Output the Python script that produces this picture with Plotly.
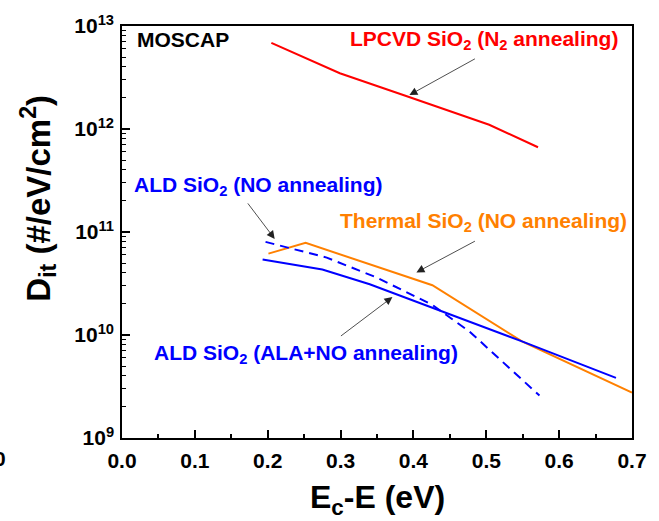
import plotly.graph_objects as go

# ---- data ----
lpcvd_x = [0.205, 0.299, 0.390, 0.504, 0.571]
lpcvd_y = [6.87e12, 3.48e12, 2.09e12, 1.10e12, 6.65e11]

thermal_x = [0.201, 0.252, 0.426, 0.549, 0.700]
thermal_y = [6.17e10, 7.85e10, 3.04e10, 8.67e9, 2.76e9]

ala_x = [0.193, 0.275, 0.340, 0.549, 0.678]
ala_y = [5.40e10, 4.32e10, 3.11e10, 8.67e9, 3.84e9]

ald_no_x = [0.197, 0.281, 0.349, 0.426, 0.477, 0.573]
ald_no_y = [8.02e10, 5.64e10, 3.63e10, 1.96e10, 1.08e10, 2.58e9]

x_ticks = [0.0, 0.1, 0.2, 0.3, 0.4, 0.5, 0.6, 0.7]
x_ticktext = ["0.0", "0.1", "0.2", "0.3", "0.4", "0.5", "0.6", "0.7"]
y_ticks = [1e9, 1e10, 1e11, 1e12, 1e13]
y_ticktext = ["10<sup>9</sup>", "10<sup>10</sup>", "10<sup>11</sup>", "10<sup>12</sup>", "10<sup>13</sup>"]

RED = "#FF0000"
ORANGE = "#FF8000"
BLUE = "#0000FF"
FONT = "Liberation Sans, Arial, sans-serif"

fig = go.Figure()
fig.add_trace(go.Scatter(x=lpcvd_x, y=lpcvd_y, mode="lines", line=dict(color=RED, width=2)))
fig.add_trace(go.Scatter(x=thermal_x, y=thermal_y, mode="lines", line=dict(color=ORANGE, width=2)))
fig.add_trace(go.Scatter(x=ala_x, y=ala_y, mode="lines", line=dict(color=BLUE, width=2)))
fig.add_trace(go.Scatter(x=ald_no_x, y=ald_no_y, mode="lines",
                         line=dict(color=BLUE, width=2, dash="9px,6px")))

minor_y = [m * 10 ** e for e in range(9, 13) for m in range(2, 10)]

fig.update_layout(
    width=659, height=521,
    margin=dict(l=122, r=26, t=20, b=83),
    paper_bgcolor="white", plot_bgcolor="white",
    showlegend=False,
    font=dict(family=FONT, size=21, color="black", weight="bold"),
    xaxis=dict(
        range=[0, 0.7], tickvals=x_ticks, ticktext=x_ticktext,
        ticks="inside", ticklen=8, tickwidth=1.5, tickcolor="black",
        showline=True, linecolor="black", linewidth=1.5, mirror=True,
        showgrid=False, zeroline=False,
        ticklabelstandoff=3,
        tickfont=dict(family=FONT, size=21, color="black", weight="bold"),
        minor=dict(tickvals=[0.05, 0.15, 0.25, 0.35, 0.45, 0.55, 0.65],
                   ticks="inside", ticklen=4, tickwidth=1.5, tickcolor="black", showgrid=False),
    ),
    yaxis=dict(
        type="log", range=[9, 13], tickvals=y_ticks, ticktext=y_ticktext,
        ticks="inside", ticklen=8, tickwidth=1.5, tickcolor="black",
        showline=True, linecolor="black", linewidth=1.5, mirror=True,
        showgrid=False, zeroline=False,
        ticklabelstandoff=2,
        tickfont=dict(family=FONT, size=21, color="black", weight="bold"),
        minor=dict(tickvals=minor_y, ticks="inside", ticklen=4, tickwidth=1.2,
                   tickcolor="black", showgrid=False),
    ),
)

def pxx(px):
    return (px - 122) / 511.0

def pxy(py):
    return (438 - py) / 418.0

ann = []
# axis titles
ann.append(dict(text="D<sub>it</sub> (#/eV/cm<sup>2</sup>)", xref="paper", yref="paper",
                x=pxx(38), y=pxy(195), textangle=-90, showarrow=False,
                xanchor="center", yanchor="middle",
                font=dict(family=FONT, size=33, color="black", weight="bold")))
ann.append(dict(text="E<sub>c</sub>-E (eV)", xref="paper", yref="paper",
                x=pxx(378), y=pxy(500), showarrow=False,
                xanchor="center", yanchor="middle",
                font=dict(family=FONT, size=32, color="black", weight="bold")))
# stray label at the left edge
ann.append(dict(text="0", xref="paper", yref="paper", x=pxx(8), y=pxy(459),
                showarrow=False, xanchor="right", yanchor="middle",
                font=dict(family=FONT, size=21, color="black", weight="bold")))
# text labels
labels = [
    ("MOSCAP", 135, 34, "black", "left"),
    ("LPCVD SiO<sub>2</sub> (N<sub>2</sub> annealing)", 484.5, 34, RED, "center"),
    ("ALD SiO<sub>2</sub> (NO annealing)", 259, 182, BLUE, "center"),
    ("Thermal SiO<sub>2</sub> (NO annealing)", 484, 219, ORANGE, "center"),
    ("ALD SiO<sub>2</sub> (ALA+NO annealing)", 306, 353, BLUE, "center"),
]
for t, x, y, c, anchor in labels:
    ann.append(dict(text=t, xref="paper", yref="paper", x=pxx(x), y=pxy(y),
                    showarrow=False, xanchor=anchor, yanchor="middle",
                    font=dict(family=FONT, size=21, color=c, weight="bold")))

# arrows: head in data coordinates, tail as pixel offset
arrows = [
    (0.3945, 12.330, 67, -37),
    (0.2096, 10.933, -28, -37),
    (0.4041, 10.608, 60, -32),
    (0.3712, 10.368, -53, 40),
]
for hx, hy, ax, ay in arrows:
    ann.append(dict(x=hx, y=hy, xref="x", yref="y", ax=ax, ay=ay, text="",
                    showarrow=True, arrowhead=2, arrowsize=2.0, arrowwidth=0.8,
                    arrowcolor="#222222"))

fig.update_layout(annotations=ann)
fig.write_html("out.html")
